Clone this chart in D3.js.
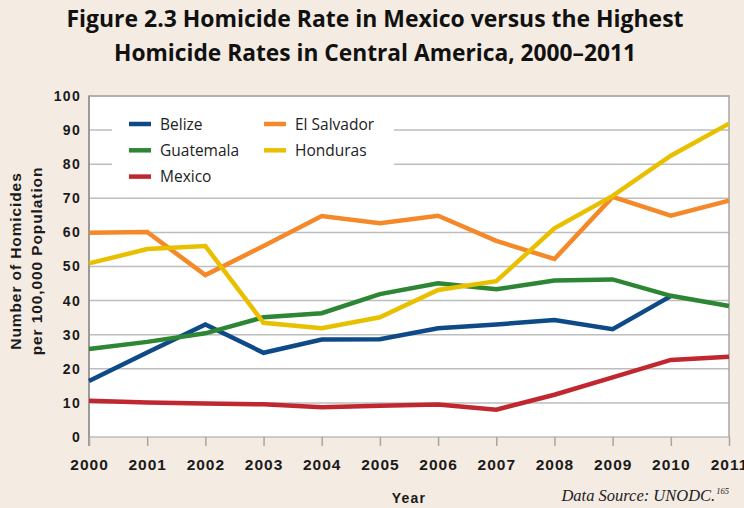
<!DOCTYPE html>
<html><head><meta charset="utf-8">
<script src="https://cdn.jsdelivr.net/npm/d3@7"></script>
<style>
html,body{margin:0;padding:0;background:#f4ebe2;}
svg{display:block;}
</style></head>
<body>
<svg id="chart" width="744" height="508"></svg>
<script>
const years = [2000,2001,2002,2003,2004,2005,2006,2007,2008,2009,2010,2011];
const belize     = [16.4,24.8,33.0,24.7,28.6,28.7,31.9,33.0,34.3,31.6,41.3,null];
const guatemala  = [25.8,27.9,30.4,35.1,36.3,41.9,45.1,43.3,45.9,46.2,41.4,38.4];
const mexico     = [10.6,10.1,9.8,9.6,8.7,9.2,9.5,8.0,12.4,17.5,22.6,23.5];
const elSalvador = [59.9,60.1,47.5,56.0,64.8,62.7,64.9,57.5,52.2,70.4,64.9,69.3];
const honduras   = [50.9,55.1,56.0,33.5,31.9,35.1,43.1,45.7,61.2,70.7,82.5,91.9];
const yTicks = [0,10,20,30,40,50,60,70,80,90,100];
const titleLines = ["Figure 2.3 Homicide Rate in Mexico versus the Highest","Homicide Rates in Central America, 2000\u20132011"];

const series = [
  {name:"Belize", values:belize, color:"#0d4a87"},
  {name:"Mexico", values:mexico, color:"#c1272f"},
  {name:"Guatemala", values:guatemala, color:"#2d8633"},
  {name:"El Salvador", values:elSalvador, color:"#f5892a"},
  {name:"Honduras", values:honduras, color:"#e9c000"}
];
const legendOrder = [
  {name:"Belize", color:"#0d4a87", col:0, row:0},
  {name:"Guatemala", color:"#2d8633", col:0, row:1},
  {name:"Mexico", color:"#c1272f", col:0, row:2},
  {name:"El Salvador", color:"#f5892a", col:1, row:0},
  {name:"Honduras", color:"#e9c000", col:1, row:1}
];

const svg = d3.select("#chart");
const L=89, R=729, T=96, B=437;
const x = d3.scaleLinear().domain([2000,2011]).range([L,R]);
const y = d3.scaleLinear().domain([0,100]).range([B,T]);

// title
svg.append("g").selectAll("text").data(titleLines).join("text")
  .attr("x",375).attr("y",(d,i)=>27+i*34)
  .attr("text-anchor","middle")
  .attr("font-family","'Open Sans', sans-serif").attr("font-weight",700)
  .attr("font-size",23).attr("fill","#111")
  .attr("textLength",(d,i)=>i===0?617:522).attr("lengthAdjust","spacingAndGlyphs")
  .text(d=>d);

// plot bg
svg.append("rect").attr("x",L).attr("y",T).attr("width",R-L).attr("height",B-T).attr("fill","#fff");

// gridlines
svg.append("g").selectAll("line").data(yTicks).join("line")
  .attr("x1",L).attr("x2",R).attr("y1",d=>y(d)).attr("y2",d=>y(d))
  .attr("stroke","#bdbdbd").attr("stroke-width",1.5);

// frame
svg.append("path").attr("d",`M${L},${T}H${R}V${B}`).attr("fill","none").attr("stroke","#a6a6a6").attr("stroke-width",1.5);
svg.append("line").attr("x1",L).attr("x2",L).attr("y1",T-0.5).attr("y2",B+9).attr("stroke","#9a9a9a").attr("stroke-width",2);

// x axis
const xAxis = d3.axisBottom(x).tickValues(years).tickFormat(d3.format("d")).tickSize(9).tickPadding(13);
const gx = svg.append("g").attr("transform",`translate(0,${B})`).call(xAxis);
gx.select(".domain").remove();
gx.selectAll(".tick line").attr("stroke","#a6a6a6").attr("stroke-width",1.5);
gx.selectAll(".tick text").attr("font-family","'Liberation Sans', Arial, sans-serif").attr("font-weight",700)
  .attr("font-size",15.5).attr("letter-spacing",1).attr("fill","#1a1a1a");

// y axis
const yAxis = d3.axisLeft(y).tickValues(yTicks).tickSize(0).tickPadding(8);
const gy = svg.append("g").attr("transform",`translate(${L},0)`).call(yAxis);
gy.select(".domain").remove();
gy.selectAll(".tick text").attr("font-family","'Liberation Sans', Arial, sans-serif").attr("font-weight",700)
  .attr("font-size",14).attr("letter-spacing",1.3).attr("fill","#1a1a1a");

// legend box
svg.append("rect").attr("x",112).attr("y",100).attr("width",282).attr("height",96).attr("fill","#fff");
const lg = svg.append("g").selectAll("g").data(legendOrder).join("g")
  .attr("transform",d=>`translate(${d.col===0?129:264},${124+d.row*26.3})`);
lg.append("line").attr("x1",0).attr("x2",22).attr("stroke",d=>d.color).attr("stroke-width",4.5);
lg.append("text").attr("x",31).attr("y",0).attr("dy","0.36em")
  .attr("font-family","'Open Sans', sans-serif").attr("font-size",15.5).attr("fill","#222")
  .text(d=>d.name);

// lines
const line = d3.line().defined(d=>d[1]!=null).x(d=>x(d[0])).y(d=>y(d[1]));
svg.append("g").selectAll("path").data(series).join("path")
  .attr("d",s=>line(years.map((yr,i)=>[yr,s.values[i]])))
  .attr("fill","none").attr("stroke",s=>s.color).attr("stroke-width",4.5)
  .attr("stroke-linejoin","miter").attr("stroke-linecap","butt");

// axis titles
const yt = svg.append("text").attr("transform","translate(0,261) rotate(-90)")
  .attr("text-anchor","middle").attr("font-family","'Liberation Sans', Arial, sans-serif")
  .attr("font-weight",700).attr("font-size",15.5).attr("letter-spacing",0.9).attr("fill","#1a1a1a");
yt.append("tspan").attr("x",0).attr("y",21).text("Number of Homicides");
yt.append("tspan").attr("x",0).attr("y",42).text("per 100,000 Population");

svg.append("text").attr("x",409).attr("y",503).attr("text-anchor","middle")
  .attr("font-family","'Liberation Sans', Arial, sans-serif").attr("font-weight",700)
  .attr("font-size",14).attr("letter-spacing",1.2).attr("fill","#1a1a1a").text("Year");

const src = svg.append("text").attr("x",729).attr("y",501).attr("text-anchor","end")
  .attr("font-family","'Liberation Serif', 'DejaVu Serif', serif").attr("font-style","italic")
  .attr("font-size",16.5).attr("fill","#222");
src.append("tspan").text("Data Source: UNODC.");
src.append("tspan").attr("font-size",8.5).attr("dy",-7).attr("dx",1).text("165");
</script>
</body></html>
